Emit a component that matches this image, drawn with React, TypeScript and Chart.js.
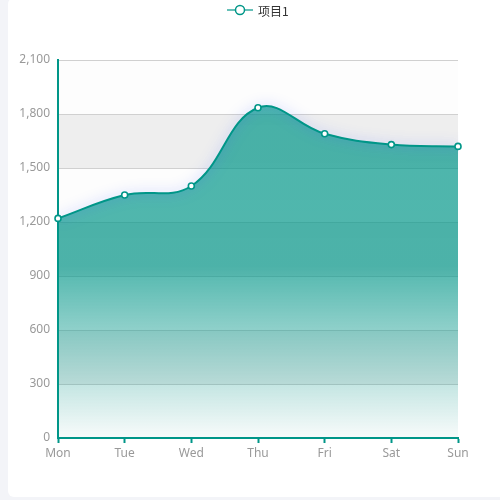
import React, { useEffect, useRef } from "react";
import { Chart, registerables } from "chart.js";

Chart.register(...registerables);

const categories = ["Mon", "Tue", "Wed", "Thu", "Fri", "Sat", "Sun"];
const seriesName = "项目1";
const seriesValues = [1220, 1350, 1400, 1835, 1690, 1630, 1620];
const yMin = 0;
const yMax = 2100;
const yStep = 300;

const TEAL = "#009688";
const FONT = "'Noto Sans', 'Noto Sans CJK SC', sans-serif";

const splitAreaPlugin = {
  id: "splitArea",
  beforeDraw(chart: any) {
    const { ctx, chartArea, scales } = chart;
    const y = scales.y;
    const colors = ["rgba(250,250,250,0.3)", "rgba(200,200,200,0.3)"];
    ctx.save();
    let i = 0;
    for (let v = yMin; v < yMax; v += yStep) {
      const top = y.getPixelForValue(v + yStep);
      const bottom = y.getPixelForValue(v);
      ctx.fillStyle = colors[i % 2];
      ctx.fillRect(chartArea.left, top, chartArea.right - chartArea.left, bottom - top);
      i++;
    }
    ctx.restore();
  },
};

const glowPlugin = {
  id: "lineGlow",
  beforeDatasetDraw(chart: any, args: any) {
    if (args.index !== 0) return;
    const ctx = chart.ctx;
    ctx.save();
    ctx.shadowColor = "rgba(60,90,255,0.5)";
    ctx.shadowBlur = 12;
  },
  afterDatasetDraw(chart: any, args: any) {
    if (args.index !== 0) return;
    chart.ctx.restore();
  },
};

const legendPlugin = {
  id: "customLegend",
  afterDraw(chart: any) {
    const ctx = chart.ctx;
    ctx.save();
    const cy = 10;
    ctx.strokeStyle = "rgba(0,150,136,0.6)";
    ctx.lineWidth = 2;
    ctx.beginPath();
    ctx.moveTo(227, cy);
    ctx.lineTo(253, cy);
    ctx.stroke();
    ctx.beginPath();
    ctx.arc(240, cy, 4.5, 0, Math.PI * 2);
    ctx.fillStyle = "#fff";
    ctx.fill();
    ctx.strokeStyle = TEAL;
    ctx.lineWidth = 1.5;
    ctx.stroke();
    ctx.fillStyle = "#333";
    ctx.font = "12px 'Noto Sans CJK SC', sans-serif";
    ctx.textBaseline = "middle";
    ctx.textAlign = "left";
    ctx.fillText(seriesName, 258, cy + 1);
    ctx.restore();
  },
};

export default function App() {
  const ref = useRef<HTMLCanvasElement | null>(null);

  useEffect(() => {
    document.body.style.margin = "0";
    document.body.style.background = "#f3f4f8";
    document.body.style.overflow = "hidden";
    if (!ref.current) return;
    const chart = new Chart(ref.current, {
      type: "line",
      data: {
        labels: categories,
        datasets: [
          {
            label: seriesName,
            data: seriesValues,
            borderColor: TEAL,
            borderWidth: 2,
            tension: 0.4,
            pointRadius: 0,
            fill: "origin",
            order: 1,
            backgroundColor: (c: any) => {
              const chart = c.chart;
              const area = chart.chartArea;
              if (!area) return "rgba(0,150,136,0.7)";
              const top = chart.scales.y.getPixelForValue(Math.max(...seriesValues));
              const g = chart.ctx.createLinearGradient(0, top, 0, area.bottom);
              g.addColorStop(0, "rgba(0,150,136,0.7)");
              g.addColorStop(0.48, "rgba(0,150,136,0.68)");
              g.addColorStop(1, "rgba(0,150,136,0.02)");
              return g;
            },
          },
          {
            label: seriesName + " points",
            data: seriesValues,
            showLine: false,
            pointRadius: 3,
            pointBorderWidth: 1.6,
            pointBackgroundColor: "#fff",
            pointBorderColor: TEAL,
            fill: false,
            order: 0,
          },
        ],
      },
      options: {
        responsive: false,
        animation: false,
        layout: { padding: { top: 60, left: 0, right: 42, bottom: 0 } },
        plugins: {
          legend: { display: false },
          tooltip: { enabled: false },
        },
        scales: {
          x: {
            type: "category",
            offset: false,
            grid: {
              drawOnChartArea: false,
              drawTicks: true,
              tickLength: 5,
              tickColor: TEAL,
              tickWidth: 2,
            },
            border: { color: TEAL, width: 2 },
            ticks: {
              color: "#999",
              font: { size: 12, family: FONT },
              padding: 3,
              autoSkip: false,
              maxRotation: 0,
            },
            afterFit(scale: any) {
              scale.height = 62;
            },
          },
          y: {
            min: yMin,
            max: yMax,
            grid: { color: "#d0d0d0", drawTicks: false, lineWidth: 1 },
            border: { color: TEAL, width: 2 },
            ticks: {
              stepSize: yStep,
              color: "#999",
              font: { size: 12, family: FONT },
              padding: 8,
            },
            afterFit(scale: any) {
              scale.width = 58;
            },
          },
        },
      },
      plugins: [splitAreaPlugin, glowPlugin, legendPlugin],
    });
    return () => chart.destroy();
  }, []);

  return (
    <div style={{ position: "relative", width: 500, height: 500, overflow: "hidden" }}>
      <div
        style={{
          position: "absolute",
          left: 8,
          top: -2,
          width: 520,
          height: 499,
          background: "#fff",
          borderRadius: 6,
        }}
      />
      <canvas
        ref={ref}
        width={500}
        height={500}
        style={{ position: "absolute", left: 0, top: 0, width: 500, height: 500 }}
      />
    </div>
  );
}
